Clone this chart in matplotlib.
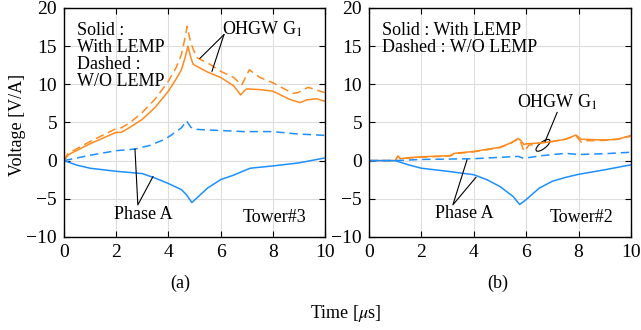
import matplotlib.pyplot as plt
from matplotlib.patches import Ellipse

plt.rcParams["font.family"] = ["Liberation Serif", "DejaVu Serif"]
plt.rcParams["mathtext.fontset"] = "stix"

ORANGE = "#FF8A1E"
BLUE = "#1E8FFF"

# ---- (a) Tower#3 ----
a_oh_solid_t = [0, 0.15, 0.3, 1.0, 2.0, 2.2, 2.5, 3.0, 3.5, 4.0, 4.3, 4.5, 4.65, 4.75, 4.85, 4.95,
                5.5, 6.0, 6.5, 6.77, 6.9, 7.0, 7.5, 8.0, 8.66, 9.04, 9.3, 9.68, 10]
a_oh_solid_v = [0, 0.7, 1.0, 2.2, 3.7, 3.7, 4.3, 5.4, 7.0, 9.1, 10.7, 11.9, 13.6, 15.0, 13.6, 12.6,
                11.6, 10.9, 9.8, 8.6, 9.1, 9.4, 9.3, 9.1, 8.0, 7.6, 7.95, 8.1, 7.75]
a_oh_dash_t = [0, 0.15, 0.3, 1.0, 2.0, 2.2, 2.5, 3.0, 3.5, 4.0, 4.3, 4.5, 4.62, 4.72, 4.85, 5.08,
               5.6, 6.0, 6.5, 6.81, 7.1, 7.5, 8.0, 8.77, 8.96, 9.35, 10]
a_oh_dash_v = [0, 0.9, 1.2, 2.5, 4.2, 4.3, 4.9, 6.3, 8.1, 10.4, 12.2, 13.9, 15.8, 17.6, 15.5, 13.5,
               12.6, 11.7, 10.9, 9.9, 11.9, 10.9, 10.2, 8.8, 8.9, 9.6, 8.9]
a_ph_solid_t = [0, 0.5, 1.0, 2.0, 3.0, 3.5, 4.0, 4.5, 4.7, 4.9, 5.5, 6.0, 6.5, 7.13, 8.0, 9.0, 10]
a_ph_solid_v = [0, -0.6, -1.0, -1.4, -1.7, -2.3, -3.0, -3.8, -4.5, -5.5, -3.6, -2.5, -1.9, -1.0, -0.7, -0.3, 0.35]
a_ph_dash_t = [0, 1.0, 2.0, 2.7, 3.3, 3.9, 4.3, 4.5, 4.7, 4.85, 5.0, 5.6, 6.9, 8.0, 8.9, 10]
a_ph_dash_v = [0, 0.7, 1.3, 1.5, 2.0, 2.85, 3.8, 4.3, 5.2, 4.4, 4.1, 4.0, 3.8, 3.8, 3.5, 3.3]

# ---- (b) Tower#2 ----
b_oh_solid_t = [0, 1.0, 1.1, 1.2, 1.4, 2.0, 3.1, 3.25, 4.0, 5.0, 5.4, 5.7, 5.8, 5.92, 6.0, 6.5,
                7.0, 7.5, 7.9, 8.1, 9.0, 9.5, 10]
b_oh_solid_v = [0, 0, 0.6, 0.25, 0.35, 0.5, 0.65, 0.95, 1.2, 1.75, 2.3, 2.9, 2.6, 2.1, 2.2, 2.3,
                2.5, 2.8, 3.35, 2.8, 2.7, 2.8, 3.3]
b_oh_dash_t = [0, 1.0, 1.1, 1.2, 1.4, 2.0, 3.1, 3.25, 4.0, 5.0, 5.4, 5.7, 5.8, 5.92, 6.1, 6.5,
               7.0, 7.5, 7.9, 8.1, 8.3, 9.0, 9.5, 10]
b_oh_dash_v = [0, 0, 0.55, 0.25, 0.3, 0.45, 0.6, 0.9, 1.15, 1.7, 2.25, 2.85, 2.3, 1.2, 2.0, 2.3,
               2.5, 2.8, 3.25, 2.4, 2.6, 2.65, 2.8, 3.2]
b_ph_solid_t = [0, 1.0, 1.5, 2.0, 3.0, 4.0, 4.5, 5.0, 5.5, 5.75, 6.0, 6.5, 7.0, 7.5, 8.0, 9.0, 10]
b_ph_solid_v = [0, 0, -0.55, -1.0, -1.4, -1.85, -2.5, -3.4, -4.7, -5.75, -5.1, -3.6, -2.7, -2.2, -1.8, -1.2, -0.55]
b_ph_dash_t = [0, 1.0, 2.0, 4.0, 5.7, 5.9, 6.6, 7.5, 8.0, 9.0, 10]
b_ph_dash_v = [0, 0, 0.15, 0.25, 0.55, 0.3, 0.65, 0.95, 0.8, 0.9, 1.1]

fig = plt.figure(figsize=(6.41, 3.30), dpi=100)
ax1 = fig.add_axes([0.0998, 0.282, 0.4072, 0.694])
ax2 = fig.add_axes([0.5757, 0.282, 0.4087, 0.694])

dash = (0, (5.5, 3.2))
lw = 1.1

def style(ax):
    ax.set_xlim(0, 10)
    ax.set_ylim(-10, 20)
    ax.set_xticks([0, 2, 4, 6, 8, 10])
    ax.set_yticks([-10, -5, 0, 5, 10, 15, 20])
    ax.grid(True, color="#dddddd", lw=0.8)
    ax.tick_params(direction="in", top=True, right=True, labelsize=14, length=4, pad=5)
    for s in ax.spines.values():
        s.set_linewidth(1.0)

for ax in (ax1, ax2):
    style(ax)

ax1.plot(a_oh_solid_t, a_oh_solid_v, color=ORANGE, lw=lw)
ax1.plot(a_oh_dash_t, a_oh_dash_v, color=ORANGE, lw=lw, ls=dash)
ax1.plot(a_ph_solid_t, a_ph_solid_v, color=BLUE, lw=lw)
ax1.plot(a_ph_dash_t, a_ph_dash_v, color=BLUE, lw=lw, ls=dash)

ax2.plot(b_oh_solid_t, b_oh_solid_v, color=ORANGE, lw=lw)
ax2.plot(b_oh_dash_t, b_oh_dash_v, color=ORANGE, lw=lw, ls=dash)
ax2.plot(b_ph_solid_t, b_ph_solid_v, color=BLUE, lw=lw)
ax2.plot(b_ph_dash_t, b_ph_dash_v, color=BLUE, lw=lw, ls=dash)

fs = 13
# panel (a) annotations
ax1.text(0.5, 18.1, "Solid :\nWith LEMP\nDashed :\nW/O LEMP", fontsize=fs,
         va="top", ha="left", linespacing=1.0)
ax1.text(6.05, 17.2, r"OHGW G$_1$", fontsize=fs, va="center", ha="left")
ax1.plot([6.13, 5.21], [16.5, 13.4], color="k", lw=0.8)
ax1.plot([6.13, 5.67], [16.5, 11.7], color="k", lw=0.8)
ax1.text(3.05, -7.0, "Phase A", fontsize=fs, va="center", ha="center")
ax1.plot([2.72, 2.83, 3.41], [1.5, -5.8, -2.1], color="k", lw=0.8)
ax1.text(8.05, -7.5, "Tower#3", fontsize=fs, va="center", ha="center")

# panel (b) annotations
ax2.text(0.5, 18.1, "Solid : With LEMP\nDashed : W/O LEMP", fontsize=fs,
         va="top", ha="left", linespacing=1.0)
ax2.text(7.2, 7.6, r"OHGW G$_1$", fontsize=fs, va="center", ha="center")
ax2.plot([7.18, 6.72], [6.3, 2.5], color="k", lw=0.8)
ax2.add_patch(Ellipse((6.64, 2.0), 0.35, 1.6, angle=-15, fill=False, color="k", lw=0.8))
ax2.text(3.63, -6.9, "Phase A", fontsize=fs, va="center", ha="center")
ax2.plot([3.74, 3.2, 4.08], [0.1, -5.8, -2.2], color="k", lw=0.8)
ax2.text(8.1, -7.5, "Tower#2", fontsize=fs, va="center", ha="center")

fig.text(180 / 641, 1 - 283 / 330, "(a)", fontsize=fs, ha="center", va="center")
fig.text(498 / 641, 1 - 283 / 330, "(b)", fontsize=fs, ha="center", va="center")
fig.text(346 / 641, 1 - 313 / 330, r"Time [$\mu$s]", fontsize=fs, ha="center", va="center")
fig.text(18 / 641, 1 - 125 / 330, "Voltage [V/A]", fontsize=fs, ha="center", va="center",
         rotation=90)

fig.savefig("out.png", dpi=100)
